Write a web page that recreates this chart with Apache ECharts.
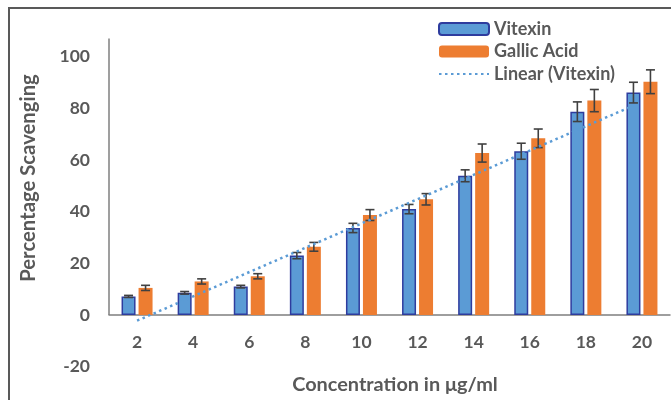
<!DOCTYPE html>
<html><head><meta charset="utf-8">
<script src="https://cdn.jsdelivr.net/npm/echarts@6/dist/echarts.min.js"></script>
<style>html,body{margin:0;padding:0;background:#fff}#c{width:671px;height:400px}</style>
</head><body><div id="c"></div>
<script>
// ---- data ----
const categories = ['2', '4', '6', '8', '10', '12', '14', '16', '18', '20'];
const vitexin = [7.2, 8.6, 11.0, 23.0, 33.7, 41.0, 53.9, 63.4, 78.7, 86.1];
const vitexinErr = [0.4, 0.5, 0.5, 1.2, 1.8, 1.8, 2.3, 3.1, 3.8, 4.0];
const gallic = [10.5, 13.0, 15.0, 26.4, 38.7, 44.8, 62.7, 68.4, 83.0, 90.3];
const gallicErr = [1.0, 1.0, 1.0, 1.7, 2.1, 2.2, 3.5, 3.6, 4.3, 4.6];
const trendConc = [2, 19.6];
const trendVal = [-2.2, 80.6];
const yMin = -20, yMax = 107, yStep = 20;

// ---- style ----
const FONT = 'Lato';
const TXT = '#595959';
const BAR_W = 14, GAP = 3;
const OFF = (BAR_W + GAP) / 2;

function errSeries(name, vals, errs, offset) {
  return {
    type: 'custom', name: name, z: 10, silent: true,
    encode: { x: 0, y: 1 },
    data: vals.map((v, i) => [i, v, errs[i]]),
    renderItem: function (params, api) {
      const i = api.value(0), v = api.value(1), e = api.value(2);
      const hi = api.coord([i, v + e]);
      const lo = api.coord([i, v - e]);
      const x = hi[0] + offset, hw = 4.5;
      const st = { stroke: '#404040', lineWidth: 1.6 };
      return {
        type: 'group', children: [
          { type: 'line', shape: { x1: x, y1: hi[1], x2: x, y2: lo[1] }, style: st },
          { type: 'line', shape: { x1: x - hw, y1: hi[1], x2: x + hw, y2: hi[1] }, style: st },
          { type: 'line', shape: { x1: x - hw, y1: lo[1], x2: x + hw, y2: lo[1] }, style: st }
        ]
      };
    }
  };
}

const chart = echarts.init(document.getElementById('c'), null, { renderer: 'canvas' });
chart.setOption({
  animation: false,
  backgroundColor: '#fff',
  textStyle: { fontFamily: FONT },
  grid: { left: 109, right: 1, top: 38.6, bottom: 33.3, containLabel: false },
  legend: {
    orient: 'vertical', left: 433, top: 14, itemWidth: 50, itemHeight: 12, itemGap: 2.5,
    data: ['Vitexin', 'Gallic Acid', { name: 'Linear (Vitexin)', itemStyle: { opacity: 0 } }],
    textStyle: { fontFamily: FONT, fontWeight: 'bold', fontSize: 18, color: TXT, lineHeight: 20 },
    selectedMode: false
  },
  xAxis: [{
    type: 'category', data: categories, gridIndex: 0,
    axisLine: { onZero: true, lineStyle: { color: '#7f7f7f', width: 1.5 } },
    axisTick: { show: false },
    axisLabel: { fontFamily: FONT, fontWeight: 'bold', fontSize: 17.5, color: TXT, margin: -33 },
    splitLine: { show: false }
  }, {
    type: 'value', min: 1, max: 21, show: false, gridIndex: 0
  }],
  yAxis: {
    type: 'value', min: yMin, max: yMax, interval: yStep,
    axisLine: { show: false }, axisTick: { show: false }, splitLine: { show: false },
    axisLabel: { fontFamily: FONT, fontWeight: 'bold', fontSize: 17.5, color: TXT, margin: 19, showMaxLabel: false }
  },
  graphic: [
    { type: 'rect', silent: true, shape: { x: 9, y: 8, width: 720, height: 440 },
      style: { fill: 'none', stroke: '#595959', lineWidth: 2 } },
    { type: 'text', silent: true, x: 28, y: 178, rotation: Math.PI / 2,
      style: { text: 'Percentage Scavenging', fontFamily: FONT, fontWeight: 'bold', fontSize: 20.3,
               fill: TXT, align: 'center', verticalAlign: 'middle' } },
    { type: 'text', silent: true, x: 395, y: 385,
      style: { text: 'Concentration in μg/ml', fontFamily: FONT, fontWeight: 'bold', fontSize: 19.9,
               fill: TXT, align: 'center', verticalAlign: 'middle' } }
  ],
  series: [
    { name: 'Vitexin', type: 'bar', data: vitexin, barWidth: BAR_W, barGap: (GAP / BAR_W * 100) + '%',
      itemStyle: { color: '#5B9BD5', borderColor: '#2E3C9E', borderWidth: 1.5 } },
    { name: 'Gallic Acid', type: 'bar', data: gallic, barWidth: BAR_W,
      itemStyle: { color: '#ED7D31' } },
    errSeries('vitErr', vitexin, vitexinErr, -OFF),
    errSeries('galErr', gallic, gallicErr, OFF),
    { name: 'Linear (Vitexin)', type: 'line', xAxisIndex: 1, z: 12, symbol: 'none', silent: true, clip: false,
      data: trendConc.map((c, i) => [c, trendVal[i]]),
      lineStyle: { color: '#5B9BD5', width: 2.5, type: [2.5, 3.5] },
      itemStyle: { color: '#5B9BD5' },
      markLine: {
        silent: true, symbol: 'none', label: { show: false },
        lineStyle: { color: '#7f7f7f', width: 1.5, type: 'solid' },
        data: [[{ coord: [1, 0] }, { coord: [1, yMax] }]]
      }
    }
  ]
});
</script></body></html>
